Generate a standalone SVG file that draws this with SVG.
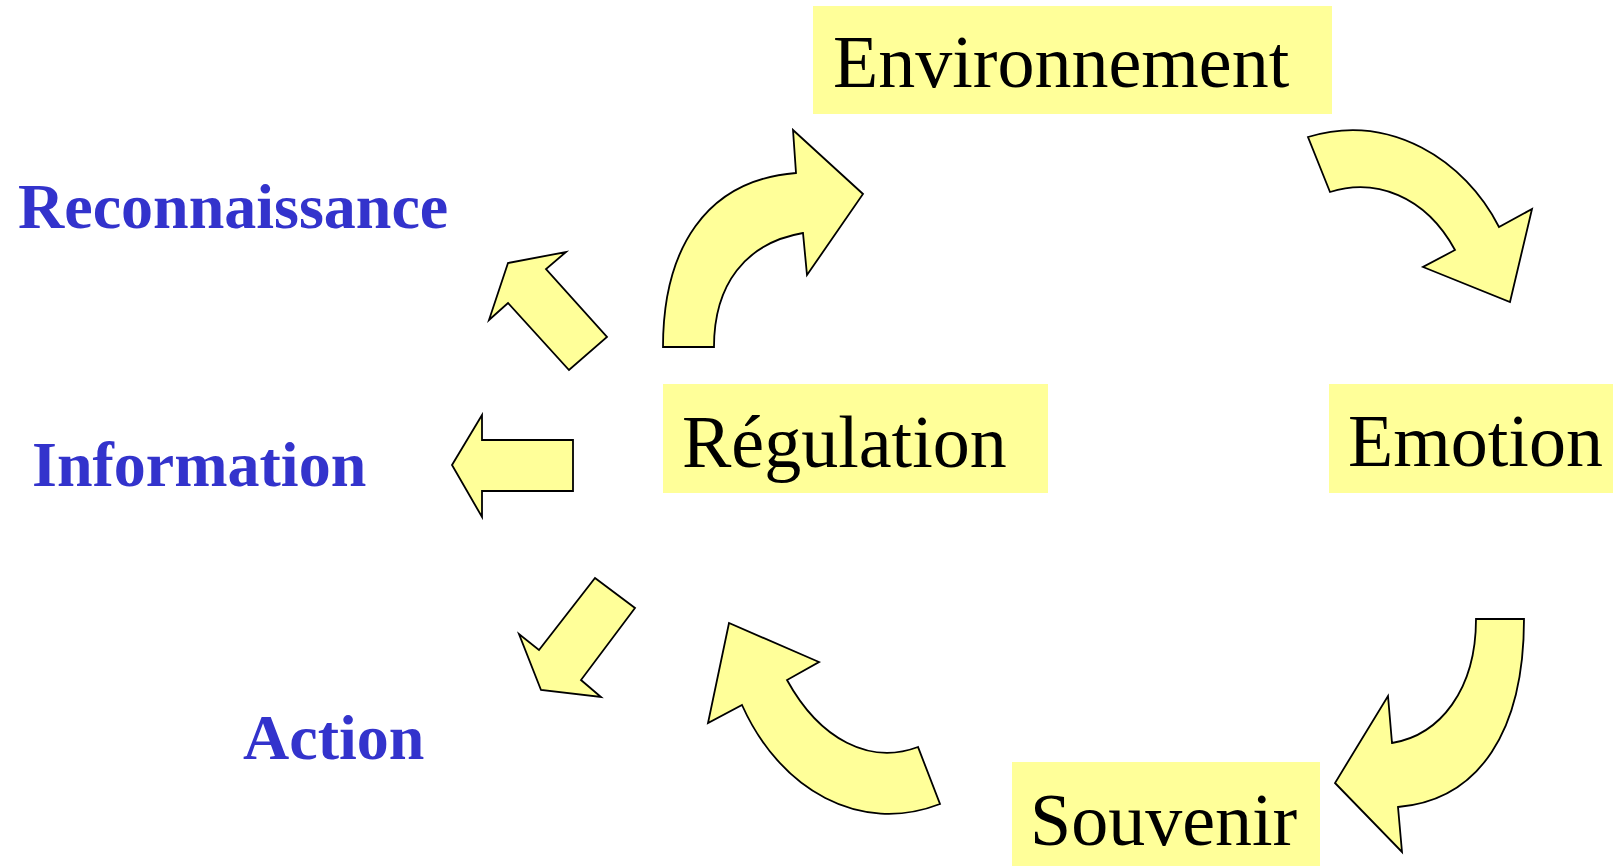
<svg xmlns="http://www.w3.org/2000/svg" width="1613" height="866" viewBox="0 0 1613 866">
<style>
.box{fill:#FFFF99;stroke:none}
.lbl{font-family:"Liberation Serif","Times New Roman",serif;font-size:74px;fill:#000}
.side{font-family:"Liberation Serif","Times New Roman",serif;font-size:64px;font-weight:bold;fill:#3333CC}
.arr{fill:#FFFF99;stroke:#000;stroke-width:1.8;stroke-linejoin:miter}
</style>
<rect width="1613" height="866" fill="#fff"/>
<g id="environnement"><rect class="box" x="813" y="6" width="519" height="108"/><text class="lbl" x="833" y="87">Environnement</text></g>
<g id="regulation"><rect class="box" x="663" y="384" width="385" height="109"/><text class="lbl" x="682" y="467">Régulation</text></g>
<g id="emotion"><rect class="box" x="1329" y="384" width="284" height="109"/><text class="lbl" x="1348" y="466">Emotion</text></g>
<g id="souvenir"><rect class="box" x="1012" y="762" width="308" height="104"/><text class="lbl" x="1030" y="845">Souvenir</text></g>
<g id="reconnaissance"><text class="side" x="18" y="228">Reconnaissance</text></g>
<g id="information"><text class="side" x="32" y="486">Information</text></g>
<g id="action"><text class="side" x="243" y="759">Action</text></g>
<g id="connectors">
<path class="arr" d="M663,347 C663,250 705,180 796,173 L793,130 L863,194 L807,275 L803,233 C745,243 714,285 714,347 Z"/>
<path class="arr" d="M1308,137 C1390,112 1465,160 1499,227 L1532,209 L1510,302 L1423,267 L1455,250 C1425,195 1375,178 1330,192 Z"/>
<path class="arr" d="M1476,619 L1524,619 C1524,730 1480,800 1398,807 L1402,852 L1335,783 L1388,696 L1392,743 C1440,735 1476,690 1476,619 Z"/>
<path class="arr" d="M940,804 C860,835 780,790 742,705 L708,723 L729,623 L819,662 L787,680 C820,740 870,765 918,747 Z"/>
<path class="arr" d="M508,263 L566,252 L546,269 L607,337 L569,370 L508,303 L489,320 Z"/>
<path class="arr" d="M452,465 L482,415 L482,440 L573,440 L573,491 L482,491 L482,517 Z"/>
<path class="arr" d="M595,578 L635,608 L581,680 L601,697 L541,690 L519,634 L539,650 Z"/>
</g>
</svg>
